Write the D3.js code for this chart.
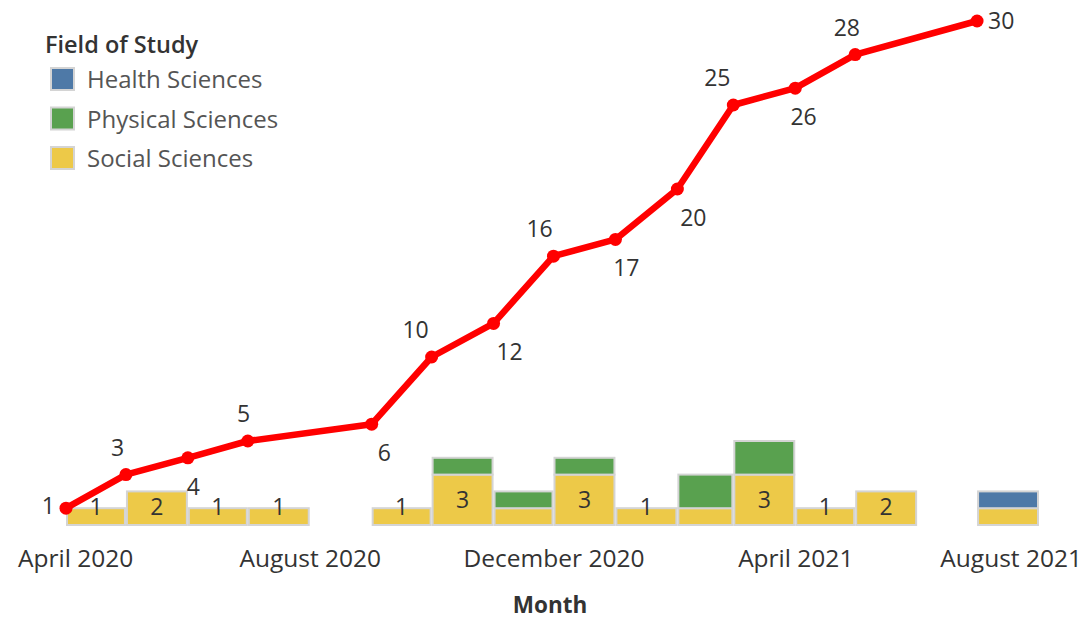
<!DOCTYPE html>
<html><head><meta charset="utf-8">
<script src="https://cdn.jsdelivr.net/npm/d3@7"></script>
<style>
html,body{margin:0;padding:0;background:#fff;}
svg{display:block;font-family:"Open Sans",sans-serif;}
</style></head>
<body>
<svg id="chart" width="1085" height="618"></svg>
<script>
// ---- data ----
const months = ["2020-04","2020-05","2020-06","2020-07","2020-09","2020-10","2020-11","2020-12","2021-01","2021-02","2021-03","2021-04","2021-05","2021-07"];
const socialSciences   = [1,2,1,1,1,3,1,3,1,1,3,1,2,1];
const physicalSciences = [0,0,0,0,0,1,1,1,0,2,2,0,0,0];
const healthSciences   = [0,0,0,0,0,0,0,0,0,0,0,0,0,1];
const cumulativeTotal  = [1,3,4,5,6,10,12,16,17,20,25,26,28,30];
const cumulativeLabelSide = ["left","above","below","above","below","above","below","above","below","below","above","below","above","right"];
const socialLabelShown = [true,true,true,true,true,true,false,true,true,false,true,true,true,false];
const fields = ["Health Sciences","Physical Sciences","Social Sciences"];
const fieldColors = ["#4e79a7","#59a14f","#edc948"];
const tickDates = ["2020-04-01","2020-08-01","2020-12-01","2021-04-01","2021-08-01"];
const tickLabels = ["April 2020","August 2020","December 2020","April 2021","August 2021"];

// ---- setup ----
const svg = d3.select("#chart");
const parseM = d3.timeParse("%Y-%m");
const parseD = d3.timeParse("%Y-%m-%d");
const dates = months.map(parseM);

const x = d3.scaleTime()
  .domain([parseD("2020-04-01"), parseD("2021-08-01")])
  .range([66, 1039]);
const y = d3.scaleLinear().domain([0, 30]).range([525, 21]);

const rows = dates.map((d, i) => ({
  date: d, end: d3.timeMonth.offset(d, 1),
  "Social Sciences": socialSciences[i],
  "Physical Sciences": physicalSciences[i],
  "Health Sciences": healthSciences[i]
}));
const stackKeys = ["Social Sciences","Physical Sciences","Health Sciences"];
const stacked = d3.stack().keys(stackKeys)(rows);
const color = d3.scaleOrdinal().domain(fields).range(fieldColors);

// ---- bars ----
const gBars = svg.append("g");
stacked.forEach(layer => {
  gBars.selectAll(null).data(layer.filter(s => s[1] > s[0])).enter().append("rect")
    .attr("x", s => x(s.data.date) + 1)
    .attr("width", s => x(s.data.end) - x(s.data.date) - 2)
    .attr("y", s => y(s[1]))
    .attr("height", s => y(s[0]) - y(s[1]))
    .attr("fill", color(layer.key))
    .attr("stroke", "#d4d4d4")
    .attr("stroke-width", 2);
});

// social labels
const socialLayer = stacked[0];
svg.append("g").selectAll("text").data(socialLayer.filter((s, i) => socialLabelShown[i])).enter()
  .append("text")
  .attr("x", s => (x(s.data.date) + x(s.data.end)) / 2)
  .attr("y", s => Math.min((y(s[0]) + y(s[1])) / 2, y(0) - 18))
  .attr("dy", "0.35em")
  .attr("text-anchor", "middle")
  .attr("font-size", 23)
  .attr("fill", "#333")
  .text(s => s[1] - s[0]);

// ---- line ----
const pts = dates.map((d, i) => [x(d), y(cumulativeTotal[i])]);
svg.append("path")
  .attr("d", d3.line()(pts))
  .attr("fill", "none")
  .attr("stroke", "#ff0000")
  .attr("stroke-width", 6.5)
  .attr("stroke-linejoin", "round");
svg.append("g").selectAll("circle").data(pts).enter().append("circle")
  .attr("cx", p => p[0]).attr("cy", p => p[1]).attr("r", 6.5).attr("fill", "#ff0000");

function slopeAt(i) {
  const s = [];
  if (i > 0) s.push(Math.abs((pts[i][1] - pts[i-1][1]) / (pts[i][0] - pts[i-1][0])));
  if (i < pts.length - 1) s.push(Math.abs((pts[i+1][1] - pts[i][1]) / (pts[i+1][0] - pts[i][0])));
  return d3.mean(s);
}
svg.append("g").selectAll("text").data(cumulativeTotal).enter().append("text")
  .attr("font-size", 23)
  .attr("fill", "#333")
  .attr("dy", "0.35em")
  .each(function(v, i) {
    const side = cumulativeLabelSide[i];
    const [px, py] = pts[i];
    const off = Math.max(2, Math.min(16, 20 * slopeAt(i)));
    const t = d3.select(this);
    if (side === "left") t.attr("x", px - 11).attr("y", py - 2).attr("text-anchor", "end");
    else if (side === "right") t.attr("x", px + 11).attr("y", py).attr("text-anchor", "start");
    else if (side === "above") t.attr("x", px - off).attr("y", py - 27).attr("text-anchor", "middle");
    else t.attr("x", px + off).attr("y", py + 29).attr("text-anchor", "middle");
  })
  .text(v => v);

// ---- x axis ----
const gx = svg.append("g").attr("transform", "translate(0,547)")
  .call(d3.axisBottom(x).tickValues(tickDates.map(parseD)).tickSize(0)
    .tickFormat((d, i) => tickLabels[i]));
gx.select(".domain").remove();
gx.selectAll("text")
  .attr("font-family", "'Open Sans',sans-serif")
  .attr("font-size", 24.5)
  .attr("fill", "#333")
  .attr("dy", "0.71em")
  .each(function() {
    const w = this.getComputedTextLength();
    const cx = +d3.select(this.parentNode).attr("transform").match(/translate\(([-\d.]+)/)[1];
    let shift = 0;
    if (cx - w / 2 < 18) shift = 18 - (cx - w / 2);
    if (cx + w / 2 > 1082) shift = 1082 - (cx + w / 2);
    d3.select(this).attr("x", shift);
  });

svg.append("text")
  .attr("x", 550).attr("y", 613)
  .attr("text-anchor", "middle")
  .attr("font-size", 22.5)
  .attr("font-weight", 700)
  .attr("fill", "#333")
  .text("Month");

// ---- legend ----
const lg = svg.append("g");
lg.append("text").attr("x", 45).attr("y", 53)
  .attr("font-size", 23.5).attr("font-weight", 600).attr("fill", "#333")
  .text("Field of Study");
const items = lg.selectAll("g.item").data(fields).enter().append("g")
  .attr("transform", (d, i) => `translate(0,${67 + i * 39.5})`);
items.append("rect").attr("x", 51).attr("y", 1).attr("width", 23).attr("height", 22)
  .attr("fill", d => color(d)).attr("stroke", "#d4d4d4").attr("stroke-width", 2);
items.append("text").attr("x", 87).attr("y", 21)
  .attr("font-size", 24).attr("fill", "#555")
  .text(d => d);
</script>
</body></html>
